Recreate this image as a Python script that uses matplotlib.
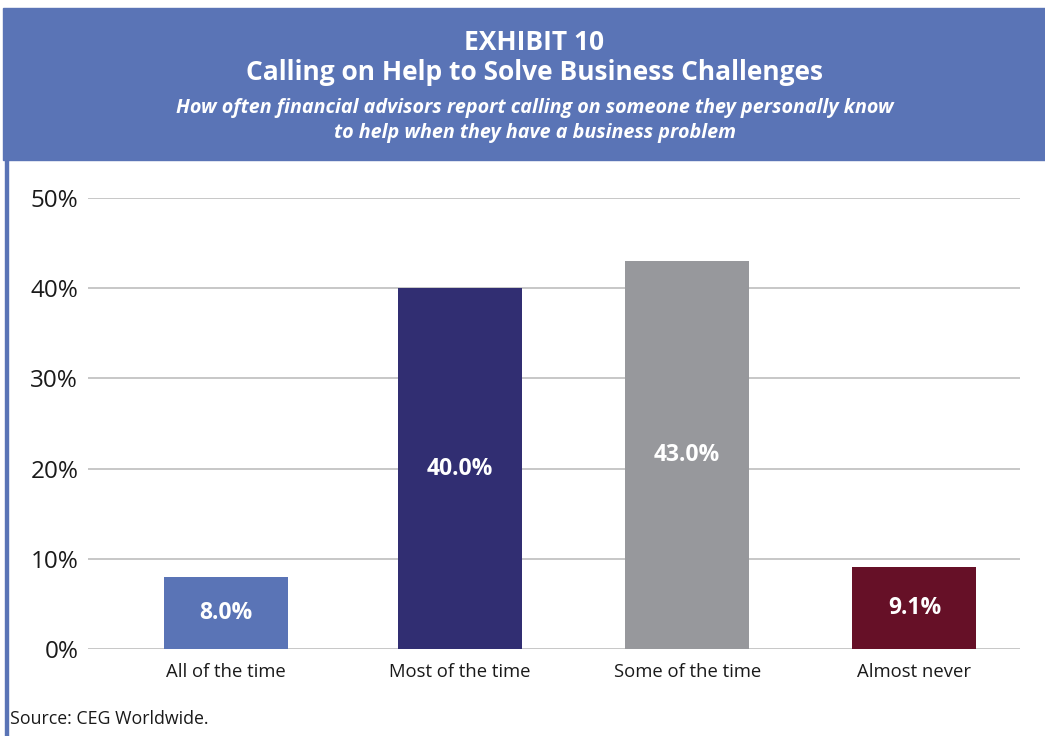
import matplotlib.pyplot as plt
from matplotlib.patches import Rectangle

# Survey results
categories = ["All of the time", "Most of the time", "Some of the time", "Almost never"]
shares = [8.0, 40.0, 43.0, 9.1]
bar_colors = ["#5a74b6", "#312e72", "#97989c", "#661027"]
yticks = [0, 10, 20, 30, 40, 50]

plt.rcParams["font.family"] = ["Open Sans", "DejaVu Sans"]

fig = plt.figure(figsize=(10.45, 7.36), dpi=100)
W, H = 1045, 736

# header band and left frame line
fig.patches.append(Rectangle((3 / W, 1 - 160 / H), 1 - 3 / W, 152 / H,
                             transform=fig.transFigure, color="#5a74b6", zorder=0))
fig.patches.append(Rectangle((5 / W, 0), 3 / W, 1 - 160 / H,
                             transform=fig.transFigure, color="#5a74b6", zorder=0))

fig.text(534 / W, 1 - 42 / H, "EXHIBIT 10", ha="center", va="center",
         color="white", fontsize=19, fontweight="bold")
fig.text(534 / W, 1 - 73 / H, "Calling on Help to Solve Business Challenges",
         ha="center", va="center", color="white", fontsize=19, fontweight="bold")
fig.text(535 / W, 1 - 108 / H,
         "How often financial advisors report calling on someone they personally know",
         ha="center", va="center", color="white", fontsize=14.2, fontweight="bold",
         style="italic")
fig.text(535 / W, 1 - 133 / H, "to help when they have a business problem",
         ha="center", va="center", color="white", fontsize=14.2, fontweight="bold",
         style="italic")

ax = fig.add_axes([88 / W, 1 - 649 / H, (1020 - 88) / W, (649 - 198) / H])
x = [0, 1.02, 2.01, 3.0]
bars = ax.bar(x, shares, width=0.54, color=bar_colors, zorder=2)
for b, v in zip(bars, shares):
    ax.text(b.get_x() + b.get_width() / 2, v / 2, f"{v:.1f}%", ha="center",
            va="center", color="white", fontsize=16.5, fontweight="bold", zorder=3)

ax.set_xlim(-0.6, 3.46)
ax.set_ylim(0, 50)
ax.set_yticks(yticks)
ax.set_yticklabels([f"{t}%" for t in yticks], fontsize=17.5, color="#1a1a1a")
ax.set_xticks(x)
ax.set_xticklabels(categories, fontsize=13.3, color="#1a1a1a")
ax.tick_params(axis="both", length=0)
ax.tick_params(axis="y", pad=7)
ax.tick_params(axis="x", pad=10)
ax.yaxis.grid(True, color="#bdbdbd", linewidth=1.2, zorder=1)
for s in ax.spines.values():
    s.set_visible(False)

fig.text(10 / W, 1 - 719 / H, "Source: CEG Worldwide.", ha="left", va="center",
         fontsize=12.8, color="#1a1a1a")

fig.savefig("out.png", dpi=100)
